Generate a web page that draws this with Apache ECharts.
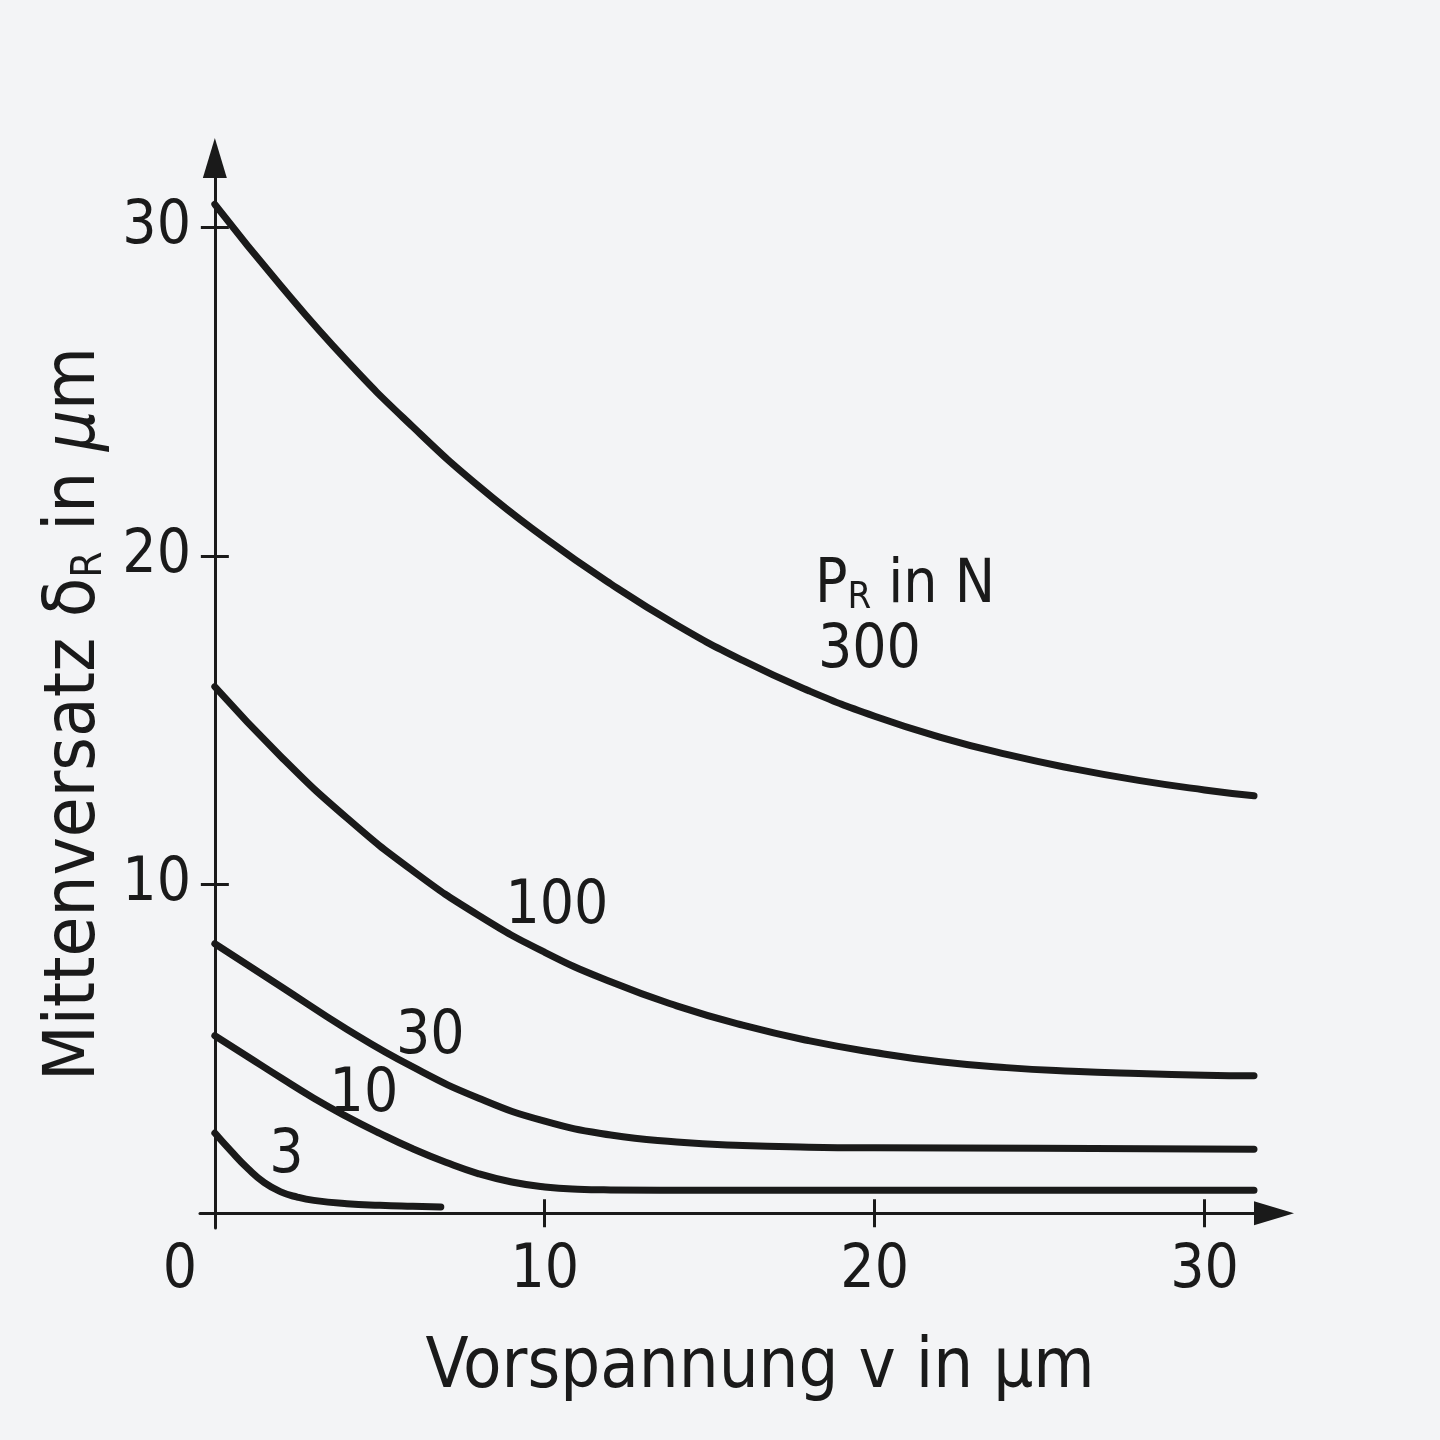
<!DOCTYPE html>
<html>
<head>
<meta charset="utf-8">
<script src="https://cdn.jsdelivr.net/npm/echarts@6/dist/echarts.min.js"></script>
<style>
html,body{margin:0;padding:0;background:#f3f4f6;}
#c{width:1440px;height:1440px;}
</style>
</head>
<body>
<div id="c"></div>
<script>
// ---- data (v in µm, δR in µm) ----
const v300 = [0, 2, 4, 6, 8, 10, 12, 14, 16, 18, 20, 22, 24, 26, 28, 30, 31.5];
const d300 = [30.7, 28.22, 25.94, 23.93, 22.12, 20.55, 19.15, 17.9, 16.82, 15.9, 15.12, 14.48, 13.96, 13.53, 13.17, 12.88, 12.7];

const v100 = [0, 2, 4, 6, 8, 10, 12, 14, 16, 18, 20, 22, 24, 26, 28, 30, 31.5];
const d100 = [16.02, 13.9, 12.03, 10.42, 9.06, 7.94, 7.04, 6.31, 5.72, 5.25, 4.89, 4.61, 4.43, 4.32, 4.25, 4.2, 4.18];

const v30 = [0, 2, 4, 6, 8, 10, 12, 14, 16, 18, 20, 25, 31.5];
const d30 = [8.2, 6.9, 5.6, 4.45, 3.5, 2.8, 2.38, 2.17, 2.06, 2.01, 1.99, 1.98, 1.95];

const v10 = [0, 1, 2, 3, 4, 5, 6, 7, 8, 9, 10, 11, 12, 15, 31.5];
const d10 = [5.4, 4.76, 4.12, 3.5, 2.94, 2.43, 1.96, 1.55, 1.2, 0.95, 0.8, 0.73, 0.71, 0.7, 0.7];

const v3 = [0, 0.5, 1, 1.5, 2, 2.5, 3, 4, 5, 6, 6.85];
const d3 = [2.44, 1.88, 1.36, 0.93, 0.65, 0.49, 0.39, 0.29, 0.24, 0.21, 0.19];

const xTicks = [10, 20, 30];
const xLabels = [0, 10, 20, 30];
const yTicks = [10, 20, 30];

// curve labels: [text, v, δR]
const curveLabels = [
  ['300', 18.28, 17.1, v300, d300],
  ['100', 10.37, 9.32, v100, d100],
  ['30', 6.53, 5.36, v30, d30],
  ['10', 4.52, 3.57, v10, d10],
  ['3', 2.17, 1.74, v3, d3]
];

const INK = '#1a1a1a';
const FONT = "'Liberation Sans Narrow','DejaVu Sans Condensed','Liberation Sans',sans-serif";
const FS = 60;

const chart = echarts.init(document.getElementById('c'));

const series = curveLabels.map(function (c) {
  const data = c[3].map(function (x, k) { return [x, c[4][k]]; });
  const mp = [{
    coord: [c[1], c[2]],
    label: { formatter: c[0], align: c[0] === '300' ? 'left' : 'center' }
  }];
  if (c[0] === '300') {
    mp.push({
      coord: [18.19, 19.06],
      label: {
        align: 'left',
        formatter: '{a|P}{s|R}{a| in N}',
        rich: {
          a: { fontSize: FS, fontFamily: FONT, color: INK, verticalAlign: 'bottom' },
          s: { fontSize: 38, fontFamily: FONT, color: INK, verticalAlign: 'bottom' }
        }
      }
    });
  }
  return {
    type: 'line',
    name: c[0],
    data: data,
    smooth: 0.5,
    symbol: 'none',
    lineStyle: { color: INK, width: 7, cap: 'round', join: 'round' },
    silent: true,
    markPoint: {
      symbol: 'circle',
      symbolSize: 1,
      itemStyle: { color: 'transparent' },
      silent: true,
      label: { show: true, position: 'inside', color: INK, fontSize: FS, fontFamily: FONT },
      data: mp
    }
  };
});

const axisLineStyle = { color: INK, width: 3 };

chart.setOption({
  backgroundColor: '#f3f4f6',
  animation: false,
  grid: { left: 200, right: 186, top: 178, bottom: 212 },
  xAxis: [{
    type: 'value', min: -0.45, max: 31.5, position: 'bottom',
    axisLine: { show: true, onZero: true, onZeroAxisIndex: 0, lineStyle: axisLineStyle,
      symbol: ['none', 'triangle'], symbolSize: [24, 40], symbolOffset: [0, 20] },
    axisTick: { show: true, customValues: xTicks, length: 14, lineStyle: axisLineStyle },
    axisLabel: {
      show: true, customValues: xLabels, margin: 13,
      color: INK, fontSize: FS, fontFamily: FONT,
      formatter: function (val) { return val === 0 ? '{z|0}' : String(val); },
      rich: { z: { fontSize: FS, fontFamily: FONT, color: INK, padding: [0, 70, 0, 0] } }
    },
    splitLine: { show: false },
    name: 'Vorspannung v in µm',
    nameLocation: 'middle', nameGap: 106,
    nameTextStyle: { color: INK, fontSize: 70, fontFamily: FONT, padding: [0, 0, 0, 66] }
  }, {
    type: 'value', min: -0.45, max: 31.5, position: 'bottom',
    axisLine: { show: false, onZero: true, onZeroAxisIndex: 1 },
    axisTick: { show: true, inside: true, customValues: xTicks, length: 14, lineStyle: axisLineStyle },
    axisLabel: { show: false },
    splitLine: { show: false }
  }],
  yAxis: [{
    type: 'value', min: -0.45, max: 31.5, position: 'left',
    axisLine: { show: true, onZero: true, onZeroAxisIndex: 0, lineStyle: axisLineStyle,
      symbol: ['none', 'triangle'], symbolSize: [24, 40], symbolOffset: [0, 20] },
    axisTick: { show: true, customValues: yTicks, length: 14, lineStyle: axisLineStyle },
    axisLabel: { show: true, customValues: yTicks, margin: 9, color: INK, fontSize: FS, fontFamily: FONT },
    splitLine: { show: false },
    name: 'Mittenversatz δ{s|R} in {m|µ}m',
    nameLocation: 'middle', nameGap: 87,
    nameTextStyle: {
      color: INK, fontSize: 72, fontFamily: FONT, padding: [0, 22, 0, 0],
      rich: {
        s: { fontSize: 42, fontFamily: FONT, color: INK, verticalAlign: 'bottom' },
        m: { fontSize: 72, fontFamily: FONT, color: INK, fontStyle: 'italic' }
      }
    }
  }, {
    type: 'value', min: -0.45, max: 31.5, position: 'left',
    axisLine: { show: false, onZero: true, onZeroAxisIndex: 1 },
    axisTick: { show: true, inside: true, customValues: yTicks, length: 14, lineStyle: axisLineStyle },
    axisLabel: { show: false },
    splitLine: { show: false }
  }],
  series: series
});
</script>
</body>
</html>
